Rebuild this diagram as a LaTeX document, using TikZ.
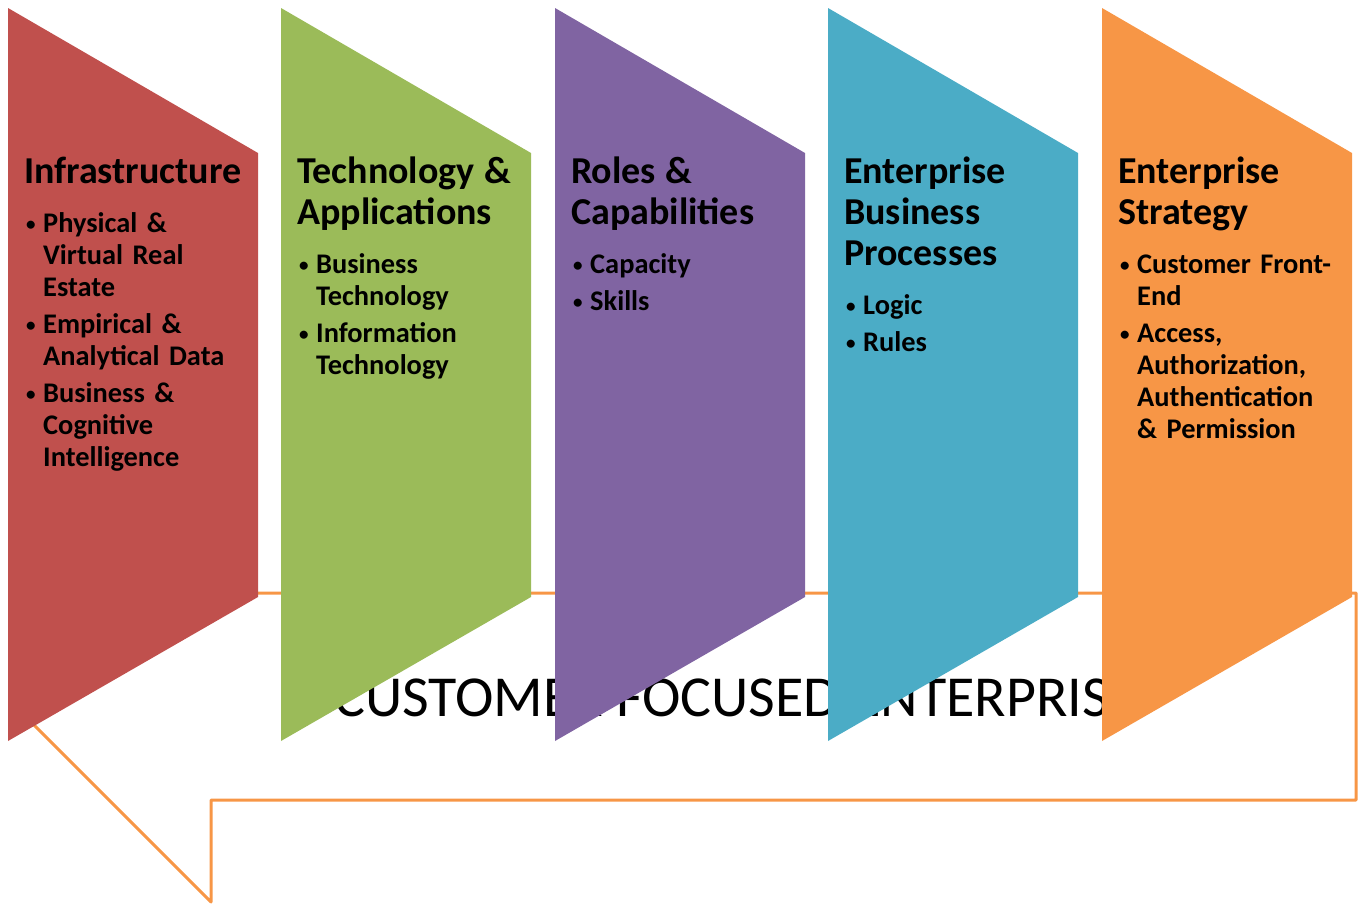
\documentclass[tikz,border=0pt]{standalone}
\usepackage{fontspec}
\setmainfont{Carlito}
\definecolor{cred}{HTML}{C0504D}
\definecolor{cgreen}{HTML}{9BBB59}
\definecolor{cpurple}{HTML}{8064A2}
\definecolor{cblue}{HTML}{4BACC6}
\definecolor{corange}{HTML}{F79646}
\newcommand\coltitle[1]{\setlength{\parskip}{0pt}{\fontsize{38}{41}\selectfont #1\par}\vspace{17.5pt}}
\newcommand\colbullet{\makebox[19pt][l]{\hspace{2pt}\raisebox{2.5pt}{\fontsize{19}{19}\selectfont•}}}
\newcommand\colitem[1]{\hangindent=19pt\hangafter=1\noindent\colbullet#1\par}
\newcommand\itemgap{\vspace{5pt}}
\newcommand\chevron[2]{\fill[#2] (#1,8) -- (#1+250,153) -- (#1+250,597) -- (#1,741) -- cycle;}
\begin{document}
\begin{tikzpicture}[x=1pt,y=-1pt,
  coltext/.style={anchor=base west, text width=240pt, align=left, inner sep=0pt,
    font=\bfseries\fontsize{28.4}{32}\selectfont},
  callout/.style={draw=corange, line width=3pt, line join=round},
  bigtext/.style={anchor=base west, inner sep=0pt, font=\fontsize{58}{60}\selectfont}]
\useasboundingbox (0,0) rectangle (1358,906);
% callout behind
\draw[callout] (10,593) -- (1356,593) -- (1356,800) -- (211,800) -- (211,902) -- (10,701) -- cycle;
\node[bigtext] (cfe) at (334,716) {CUSTOMER FOCUSED ENTERPRISE};
% chevrons
\chevron{8}{cred}
\chevron{281}{cgreen}
\chevron{555}{cpurple}
\chevron{828}{cblue}
\chevron{1102}{corange}
% texts
\node[coltext] (c1) at (24,183) {\coltitle{Infrastructure}%
\colitem{Physical \&\newline Virtual Real\newline Estate}\itemgap
\colitem{Empirical \&\newline Analytical Data}\itemgap
\colitem{Business \&\newline Cognitive\newline Intelligence}};
\node[coltext] (c2) at (297,183) {\coltitle{Technology \&\newline Applications}%
\colitem{Business\newline Technology}\itemgap
\colitem{Information\newline Technology}};
\node[coltext] (c3) at (571,183) {\coltitle{Roles \&\newline Capabilities}%
\colitem{Capacity}\itemgap
\colitem{Skills}};
\node[coltext] (c4) at (844,183) {\coltitle{Enterprise\newline Business\newline Processes}%
\colitem{Logic}\itemgap
\colitem{Rules}};
\node[coltext] (c5) at (1118,183) {\coltitle{Enterprise\newline Strategy}%
\colitem{Customer Front-\newline End}\itemgap
\colitem{Access,\newline Authorization,\newline Authentication\newline \& Permission}};
\end{tikzpicture}
\end{document}
